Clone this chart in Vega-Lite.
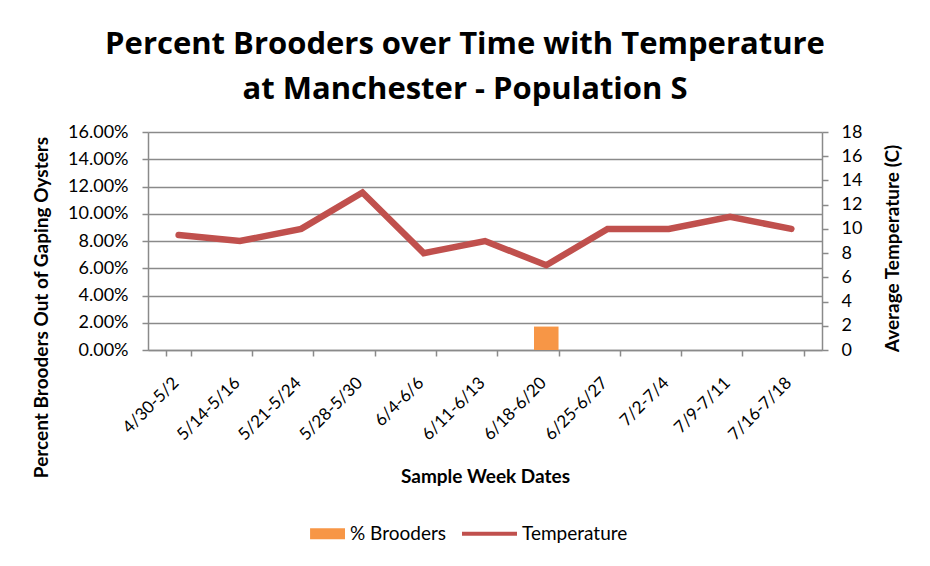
{
  "$schema": "https://vega.github.io/schema/vega-lite/v6.json",
  "width": 674,
  "height": 218,
  "autosize": {"type": "none"},
  "padding": {"left": 148, "top": 132, "right": 108, "bottom": 216},
  "background": "white",
  "title": {
    "text": ["Percent Brooders over Time with Temperature", "at Manchester - Population S"],
    "font": "Open Sans",
    "fontSize": 31,
    "fontWeight": "bold",
    "color": "black",
    "anchor": "middle",
    "dx": -20,
    "offset": 17,
    "lineHeight": 45
  },
  "config": {
    "view": {"stroke": null},
    "axis": {
      "labelFont": "Lato",
      "labelColor": "black",
      "titleFont": "Lato",
      "titleColor": "black",
      "titleFontWeight": "bold",
      "titleFontSize": 19,
      "domainColor": "#8a8a8a",
      "domainWidth": 1.5,
      "tickColor": "#8a8a8a",
      "tickWidth": 1.5,
      "tickSize": 6,
      "gridColor": "#8a8a8a",
      "gridWidth": 1.5
    }
  },
  "data": {
    "values": [
      {"week": "4/30-5/2", "brooders": 0, "temp": 9.5},
      {"week": "5/14-5/16", "brooders": 0, "temp": 9},
      {"week": "5/21-5/24", "brooders": 0, "temp": 10},
      {"week": "5/28-5/30", "brooders": 0, "temp": 13},
      {"week": "6/4-6/6", "brooders": 0, "temp": 8},
      {"week": "6/11-6/13", "brooders": 0, "temp": 9},
      {"week": "6/18-6/20", "brooders": 0.0172, "temp": 7},
      {"week": "6/25-6/27", "brooders": 0, "temp": 10},
      {"week": "7/2-7/4", "brooders": 0, "temp": 10},
      {"week": "7/9-7/11", "brooders": 0, "temp": 11},
      {"week": "7/16-7/18", "brooders": 0, "temp": 10}
    ]
  },
  "encoding": {
    "x": {
      "field": "week",
      "type": "nominal",
      "sort": null,
      "scale": {"paddingInner": 0.6, "paddingOuter": 0.3},
      "axis": {
        "title": "Sample Week Dates",
        "labelAngle": -45,
        "labelAlign": "right",
        "labelBaseline": "middle",
        "labelFontSize": 17,
        "labelPadding": 24,
        "labelOffset": -3,
        "tickBand": "extent",
        "titlePadding": 25
      }
    }
  },
  "layer": [
    {
      "mark": {"type": "bar", "color": "#F79646"},
      "encoding": {
        "y": {
          "field": "brooders",
          "type": "quantitative",
          "scale": {"domain": [0, 0.16]},
          "axis": {
            "title": "Percent Brooders Out of Gaping Oysters",
            "format": ".2%",
            "values": [0, 0.02, 0.04, 0.06, 0.08, 0.1, 0.12, 0.14, 0.16],
            "labelFontSize": 18,
            "labelPadding": 14,
            "grid": true,
            "titleX": -97,
            "titleY": 175
          }
        },
        "color": {
          "datum": "% Brooders",
          "type": "nominal",
          "scale": {"domain": ["% Brooders", "Temperature"], "range": ["#F79646", "#C0504D"]},
          "legend": {
            "title": null,
            "orient": "none",
            "direction": "horizontal",
            "legendX": 142,
            "legendY": 374,
            "labelFont": "Lato",
            "labelFontSize": 19,
            "labelColor": "black",
            "symbolSize": 3025,
            "columnPadding": 16,
            "labelOffset": 5,
            "encode": {
              "symbols": {
                "update": {
                  "shape": {"signal": "datum.value === 'Temperature' ? 'M-1,-0.075H1V0.075H-1Z' : 'M-0.27,-0.2H1V0.2H-0.27Z'"},
                  "fill": {"signal": "datum.value === 'Temperature' ? '#C0504D' : '#F79646'"},
                  "stroke": {"value": "transparent"},
                  "strokeWidth": {"value": 0},
                  "opacity": {"value": 1}
                }
              }
            }
          }
        }
      }
    },
    {
      "mark": {"type": "line", "strokeWidth": 6.5, "strokeCap": "round", "strokeJoin": "miter"},
      "encoding": {
        "y": {
          "field": "temp",
          "type": "quantitative",
          "scale": {"domain": [0, 18]},
          "axis": {
            "orient": "right",
            "title": "Average Temperature (C)",
            "values": [0, 2, 4, 6, 8, 10, 12, 14, 16, 18],
            "labelFontSize": 18,
            "labelPadding": 13,
            "grid": false,
            "titleAngle": -90,
            "titleX": 80,
            "titleY": 116
          }
        },
        "color": {"datum": "Temperature", "type": "nominal"}
      }
    }
  ],
  "resolve": {"scale": {"y": "independent"}}
}
